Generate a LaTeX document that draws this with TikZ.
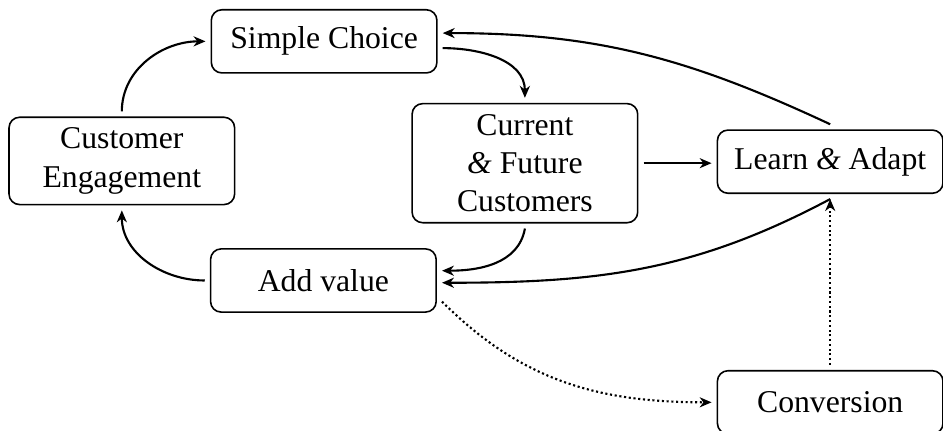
\documentclass[tikz,border=0pt,12pt]{standalone}
\usepackage{fontspec}
\setmainfont{Liberation Serif}
\usepackage{tikz}
\usetikzlibrary{calc,positioning,arrows,arrows.meta,shapes}

\tikzset{
	stagebox/.style={draw, semithick, rounded corners, align=center, minimum width=3cm, minimum height=0.84cm, outer sep=2.2pt},
	flow/.style={-{Stealth[length=4.5pt, width=3.8pt, inset=1.4pt]}, thick},
	maybeflow/.style={flow, densely dotted}
}

\begin{document}
\begin{tikzpicture}
			\useasboundingbox (0, 0) rectangle (12.54, 5.72);
			
			\node[stagebox] (simple) at (4.31, 5.17) {Simple Choice};
			\node[stagebox] (engage) at (1.62, 3.58) {Customer\\Engagement};
			\node[stagebox] (current) at (6.98, 3.55) {Current\\\textit{\&} Future\\Customers};
			\node[stagebox] (learn) at (11.04, 3.57) {Learn \textit{\&} Adapt};
			\node[stagebox] (addval) at (4.30, 1.99) {Add value};
			\node[stagebox] (convert) at (11.04, 0.37) {Conversion};
			
			%%main loop%%
			\draw[flow] (engage.north) to[out=90, in=180] (simple.west);
			\draw[flow] ([yshift=-0.9mm]simple.east) to[out=0, in=90] (current.north);
			\draw[flow] (current.east) -- (current.east -| learn.west);
			\draw[flow] (current.south) to[out=-100, in=0] ([yshift=1.3mm]addval.east);
			\draw[flow] (addval.west) to[out=180, in=-90] (engage.south);
			
			%%feedback%%
			\draw[flow] (learn.north) to[out=155, in=0] ([yshift=1.1mm]simple.east);
			\draw[flow] (learn.south) to[out=-152, in=0] ([yshift=-0.3mm]addval.east);
			
			%%dotted%%
			\draw[maybeflow] ([yshift=-2.8mm]addval.east) to[out=-45, in=180] (convert.west);
			\draw[maybeflow] (convert.north) -- (learn.south);
		\end{tikzpicture}
\end{document}
